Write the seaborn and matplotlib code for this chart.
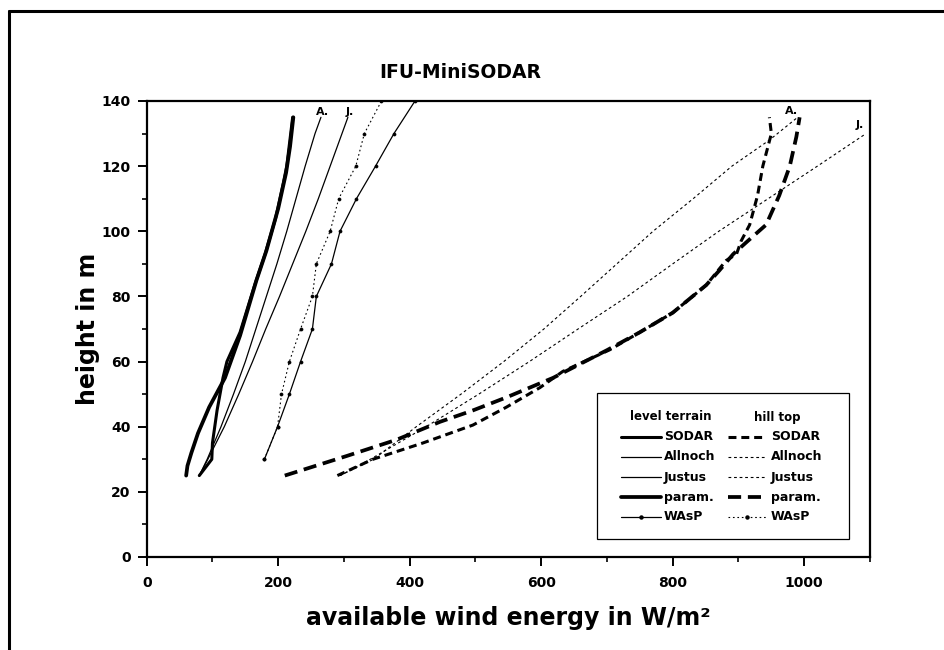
import matplotlib
matplotlib.use("Agg")
import matplotlib.pyplot as plt
from matplotlib.lines import Line2D
from matplotlib.patches import Rectangle
from matplotlib.ticker import MultipleLocator
import pandas as pd
import seaborn as sns

# ---- vertical profiles of available wind energy (W/m²) vs height (m) ----
# level terrain
lvl_sodar_e = [80, 99, 100, 107, 116, 122, 142, 165, 180, 196, 208, 213, 216, 222]
lvl_sodar_h = [25, 30, 35, 45, 55, 60, 69, 84, 93, 104, 115, 120, 125, 135]

lvl_param_e = [60, 62, 68, 78, 95, 119, 142, 167, 182, 200, 212, 218, 223]
lvl_param_h = [25, 28, 32, 38, 46, 55, 68, 85, 94, 107, 118, 126, 135]

lvl_allnoch_h = [25, 30, 40, 50, 60, 70, 80, 90, 100, 110, 120, 130, 135]
lvl_allnoch_e = [80, 92, 113, 132, 150, 166, 182, 198, 213, 227, 241, 256, 265]

lvl_justus_h = [25, 30, 40, 50, 60, 70, 80, 90, 100, 110, 120, 130, 135]
lvl_justus_e = [80, 93, 118, 140, 161, 181, 202, 222, 242, 261, 279, 297, 306]

lvl_wasp_h = [30, 40, 50, 60, 70, 80, 90, 100, 110, 120, 130, 140]
lvl_wasp_e = [179, 199, 217, 234, 252, 258, 281, 294, 319, 348, 376, 408]

# hill top
hill_wasp_h = [30, 40, 50, 60, 70, 80, 90, 100, 110, 120, 130, 140]
hill_wasp_e = [179, 199, 205, 217, 234, 252, 258, 279, 292, 318, 331, 357]

hill_sodar_e = [290, 344, 420, 496, 547, 598, 633, 704, 750, 800, 851, 881, 897,
                904, 917, 929, 937, 950, 947]
hill_sodar_h = [25, 30, 35, 40.5, 46, 52, 57, 63.6, 69, 75, 83.5, 91, 93,
                97, 102, 111, 120, 130, 135]

hill_param_e = [210, 304, 380, 446, 496, 547, 618, 700, 750, 800, 851, 871, 892,
                914, 942, 962, 978, 988, 993]
hill_param_h = [25, 31, 36, 41.5, 45, 49, 55, 63.5, 69, 75, 83.5, 88, 93,
                97, 102, 111, 120, 129, 135]

hill_allnoch_h = [25, 30, 40, 50, 60, 70, 80, 90, 100, 110, 120, 128, 135]
hill_allnoch_e = [294, 345, 410, 478, 543, 604, 660, 715, 770, 831, 890, 947, 990]

hill_justus_h = [25, 30, 40, 50, 60, 70, 80, 90, 100, 110, 120, 130]
hill_justus_e = [294, 340, 425, 505, 582, 656, 731, 800, 870, 945, 1020, 1094]

series_labels = ["SODAR", "Allnoch", "Justus", "param.", "WAsP"]
group_titles = ["level terrain", "hill top"]

x_ticks = [0, 200, 400, 600, 800, 1000]
y_ticks = [0, 20, 40, 60, 80, 100, 120, 140]

# ---- line styles ----
thin_dash = (0, (2.5, 2.5))
styles = {
    "lvl_sodar":    dict(linewidth=2.2, linestyle="-"),
    "lvl_allnoch":  dict(linewidth=0.9, linestyle="-"),
    "lvl_justus":   dict(linewidth=0.9, linestyle="-"),
    "lvl_param":    dict(linewidth=2.7, linestyle="-"),
    "lvl_wasp":     dict(linewidth=0.9, linestyle="-", marker="o", markersize=2.2),
    "hill_sodar":   dict(linewidth=2.2, linestyle=(0, (2.6, 1.6))),
    "hill_allnoch": dict(linewidth=0.8, linestyle=thin_dash),
    "hill_justus":  dict(linewidth=0.8, linestyle=thin_dash),
    "hill_param":   dict(linewidth=2.7, linestyle=(0, (3.5, 1.8))),
    "hill_wasp":    dict(linewidth=0.8, linestyle=(0, (1.5, 2.5)), marker="o", markersize=2.2),
}

profiles = {
    "lvl_sodar": (lvl_sodar_e, lvl_sodar_h),
    "lvl_param": (lvl_param_e, lvl_param_h),
    "lvl_allnoch": (lvl_allnoch_e, lvl_allnoch_h),
    "lvl_justus": (lvl_justus_e, lvl_justus_h),
    "lvl_wasp": (lvl_wasp_e, lvl_wasp_h),
    "hill_wasp": (hill_wasp_e, hill_wasp_h),
    "hill_sodar": (hill_sodar_e, hill_sodar_h),
    "hill_param": (hill_param_e, hill_param_h),
    "hill_allnoch": (hill_allnoch_e, hill_allnoch_h),
    "hill_justus": (hill_justus_e, hill_justus_h),
}

frames = []
for key, (e, h) in profiles.items():
    frames.append(pd.DataFrame({"energy": e, "height": h, "series": key}))
df = pd.concat(frames, ignore_index=True)

# ---- figure ----
sns.set_theme(style="ticks")
plt.rcParams["font.family"] = ["DejaVu Sans"]
plt.rcParams["font.weight"] = "bold"
plt.rcParams["axes.labelweight"] = "bold"
for k in ["text.color", "axes.labelcolor", "xtick.color", "ytick.color",
          "axes.edgecolor"]:
    plt.rcParams[k] = "black"

W, H = 944, 650
fig = plt.figure(figsize=(W / 100, H / 100), dpi=100)
fig.patch.set_facecolor("white")
ax = fig.add_axes([146.7 / W, 1 - 557 / H, (870 - 146.7) / W, 456 / H])
ax.set_facecolor("white")

for key in profiles:
    sub = df[df["series"] == key]
    st = dict(styles[key])
    sns.lineplot(data=sub, x="energy", y="height", sort=False, estimator=None,
                 color="black", markeredgecolor="black", markerfacecolor="black",
                 markeredgewidth=0.5, ax=ax, **st)

# curve end labels
for txt, xv, yv in [("A.", 267, 136.5), ("J.", 309, 136.5),
                    ("A.", 980, 137), ("J.", 1084, 132.5)]:
    ax.text(xv, yv, txt, fontsize=8, fontweight="bold", ha="center", va="center",
            color="black")

ax.set_xlim(0, 1100)
ax.set_ylim(0, 140)
ax.set_xticks(x_ticks)
ax.set_yticks(y_ticks)
ax.xaxis.set_minor_locator(MultipleLocator(100))
ax.yaxis.set_minor_locator(MultipleLocator(10))
ax.tick_params(which="major", direction="out", length=6.5, width=1.4,
               labelsize=10, pad=5, top=False, right=False, color="black",
               labelcolor="black")
ax.tick_params(axis="x", which="major", pad=7)
ax.tick_params(which="minor", direction="out", length=3.5, width=1.2,
               top=False, right=False, color="black")
for lab in ax.get_xticklabels() + ax.get_yticklabels():
    lab.set_fontweight("bold")
for sp in ax.spines.values():
    sp.set_visible(True)
    sp.set_linewidth(1.6)
    sp.set_color("black")

ax.set_xlabel("available wind energy in W/m²", fontsize=17, fontweight="bold")
ax.set_ylabel("height in m", fontsize=17, fontweight="bold")
ax.xaxis.set_label_coords(0.5, (557 - 618) / 456)
ax.xaxis.label.set_va("center")
ax.yaxis.set_label_coords((88 - 146.7) / 723.3, 0.5)
ax.yaxis.label.set_va("center")

fig.text(460 / W, 1 - 72 / H, "IFU-MiniSODAR", fontsize=13.5, fontweight="bold",
         ha="center", va="center", color="black")

# ---- legend box ----
def fx(px):
    return (px - 146.7) / 723.3

def fy(py):
    return (557 - py) / 456

ax.add_patch(Rectangle((fx(597), fy(539)), fx(849) - fx(597), fy(393) - fy(539),
                       transform=ax.transAxes, fill=True, facecolor="white",
                       edgecolor="black", linewidth=0.9, zorder=5))
ax.text(fx(671), fy(417), group_titles[0], transform=ax.transAxes, fontsize=8.5,
        fontweight="bold", ha="center", va="center", zorder=6)
ax.text(fx(777), fy(417), group_titles[1], transform=ax.transAxes, fontsize=8.5,
        fontweight="bold", ha="center", va="center", zorder=6)

row_y = [437, 457, 477, 497, 517]
lvl_keys = ["lvl_sodar", "lvl_allnoch", "lvl_justus", "lvl_param", "lvl_wasp"]
hill_keys = ["hill_sodar", "hill_allnoch", "hill_justus", "hill_param", "hill_wasp"]
for ry, lab, lk, hk in zip(row_y, series_labels, lvl_keys, hill_keys):
    for key, x0, x1, tx in [(lk, 621, 661, 664), (hk, 728, 766, 771)]:
        st = dict(styles[key])
        xs = [fx(x0), fx((x0 + x1) / 2), fx(x1)]
        ys = [fy(ry)] * 3
        ax.plot(xs, ys, transform=ax.transAxes, clip_on=False, color="black",
                markevery=[1], markeredgecolor="black", markerfacecolor="black",
                zorder=6, **st)
        ax.text(fx(tx), fy(ry), lab, transform=ax.transAxes, fontsize=9,
                fontweight="bold", ha="left", va="center", zorder=6)

# outer frame (top and left edges of the page border)
fig.add_artist(Line2D([9 / W, 1.0], [1 - 11 / H, 1 - 11 / H],
                      transform=fig.transFigure, color="black", linewidth=2.2))
fig.add_artist(Line2D([9 / W, 9 / W], [0.0, 1 - 11 / H],
                      transform=fig.transFigure, color="black", linewidth=2.2))

fig.savefig("out.png", dpi=100, facecolor="white")
